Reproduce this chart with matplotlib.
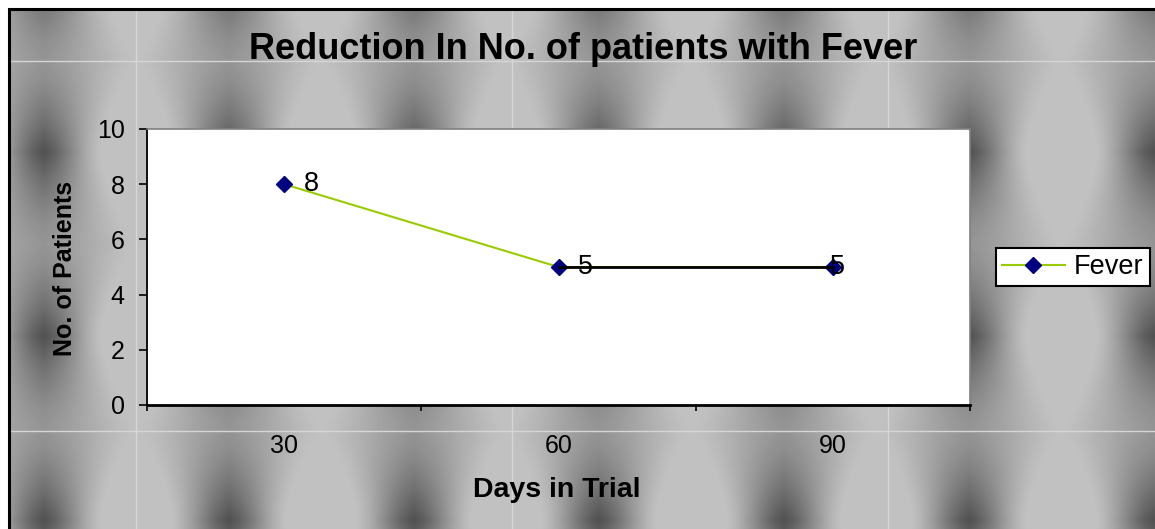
import numpy as np
import matplotlib
matplotlib.use('Agg')
import matplotlib.pyplot as plt

plt.rcParams['font.family'] = ['Liberation Sans', 'DejaVu Sans']

# data
days = ['30', '60', '90']
patients = [8, 5, 5]
series_name = 'Fever'
title = 'Reduction In No. of patients with Fever'
xlabel = 'Days in Trial'
ylabel = 'No. of Patients'
yticks = [0, 2, 4, 6, 8, 10]

# style bits
label_dx = [19.5, 19.5, 3.5]   # offset of data labels, points
W, H = 1155, 529

fig = plt.figure(figsize=(W / 100, H / 100), dpi=100)

# grey texture behind everything (lens shapes with dark gaps)
xx, yy = np.meshgrid(np.arange(W) + 0.5, np.arange(H) + 0.5)
px, py = 185.0, 184.0
fx = np.abs(((xx - 136.5 + px / 2) % px) - px / 2) / (px / 2)
fy = np.abs(((yy - 152 + py / 2) % py) - py / 2) / (py / 2)
w = 0.38 * (1 - fy ** 1.5)
g = np.clip((fx - w) / (1 - w), 0, 1)
g = g * g * (3 - 2 * g) * 0.5 + g * 0.5   # soften the lens edge
dark = g * (0.4 + 0.6 * (1 - fy) ** 1.5)
bg = 193 - 112 * dark
bg[:8, :] = 255
bg[:, :8] = 255

bgax = fig.add_axes([0, 0, 1, 1], zorder=-10)
bgax.imshow(bg, cmap='gray', vmin=0, vmax=255, extent=(0, W, H, 0),
            aspect='auto', interpolation='bilinear')
bgax.set_xlim(0, W)
bgax.set_ylim(H, 0)
for xl in [136, 512, 888]:
    bgax.plot([xl, xl], [10, H], color='#d6d6d6', lw=1)
for yl in [61, 431]:
    bgax.plot([10, W], [yl, yl], color='#d6d6d6', lw=1)
bgax.plot([9, 9, W], [H, 9, 9], color='black', lw=2.2, solid_joinstyle='miter')
bgax.axis('off')

# main plot
ax = fig.add_axes([147 / W, 1 - 405 / H, (970 - 147) / W, (405 - 129) / H])
ax.set_facecolor('white')
x = np.arange(len(days))
ax.plot(x, patients, color='#99CC00', lw=1.5, marker='D', ms=8,
        mfc='#000080', mec='#000080', label=series_name, zorder=3)
ax.plot(x[1:], patients[1:], color='black', lw=2, zorder=4)

for xi, v, dx in zip(x, patients, label_dx):
    ax.annotate(str(v), (xi, v), xytext=(dx, 0), textcoords='offset points',
                ha='center', va='center', fontsize=19.5, zorder=5)

ax.set_xlim(-0.5, len(days) - 0.5)
ax.set_ylim(0, 10)
ax.set_xticks(x)
ax.set_xticklabels(days)
ax.set_xticks(np.arange(len(days) + 1) - 0.5, minor=True)
ax.tick_params(axis='x', which='major', length=0, pad=21, labelsize=18)
ax.tick_params(axis='x', which='minor', length=4.5, width=1.2, direction='out')
ax.set_yticks(yticks)
ax.tick_params(axis='y', length=6, width=1.2, pad=10, labelsize=18)

for s in ['top', 'right']:
    ax.spines[s].set_color('#808080')
    ax.spines[s].set_linewidth(1.2)
ax.spines['left'].set_linewidth(1.3)
ax.spines['bottom'].set_linewidth(2)

leg = ax.legend(loc='center', bbox_to_anchor=(1073 / W, 1 - 267 / H),
                bbox_transform=fig.transFigure, fontsize=19.5, frameon=True,
                fancybox=False, edgecolor='black', framealpha=1,
                handlelength=2.3, handletextpad=0.35, borderpad=0.22,
                borderaxespad=0)
leg.get_frame().set_linewidth(1.5)

fig.text(583 / W, 1 - 59 / H, title, ha='center', va='baseline',
         fontsize=26, fontweight='bold')
fig.text(65 / W, 1 - 268 / H, ylabel, rotation=90, ha='center', va='center',
         fontsize=18, fontweight='bold')
fig.text(557 / W, 1 - 497 / H, xlabel, ha='center', va='baseline',
         fontsize=20.5, fontweight='bold')

fig.savefig('out.png', dpi=100)
